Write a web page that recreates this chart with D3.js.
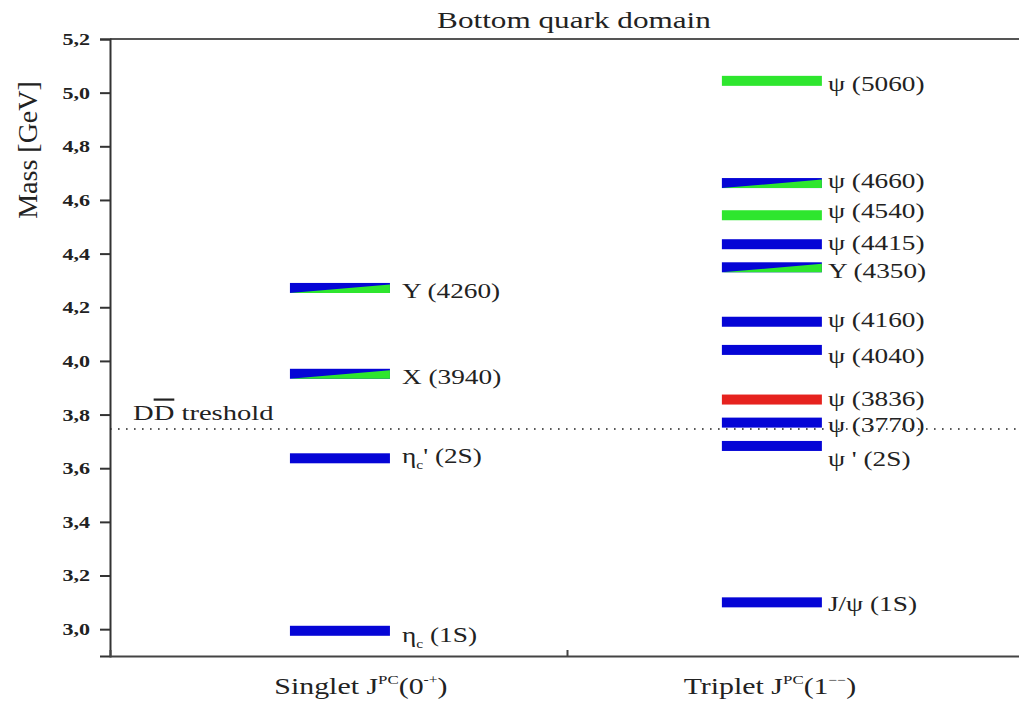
<!DOCTYPE html>
<html>
<head>
<meta charset="utf-8">
<script src="https://cdn.jsdelivr.net/npm/d3@7"></script>
<style>
  body { margin: 0; background: #fff; }
  text { font-family: "Liberation Serif", "DejaVu Serif", serif; fill: #222; }
</style>
</head>
<body>
<div class="canva"></div>
<script>
// ---- data ----
const categories = ["Singlet", "Triplet"];

const singletLabels = [["η", "c", " (1S)"], ["η", "c", "' (2S)"], ["X (3940)"], ["Y (4260)"]];
const singletMasses = [2.994, 3.637, 3.952, 4.272];
const singletKinds = ["blue", "blue", "mixed", "mixed"];

const tripletLabels = [["J/ψ (1S)"], ["ψ ' (2S)"], ["ψ (3770)"], ["ψ (3836)"], ["ψ (4040)"],
    ["ψ (4160)"], ["Y (4350)"], ["ψ (4415)"], ["ψ (4540)"], ["ψ (4660)"], ["ψ (5060)"]];
const tripletMasses = [3.100, 3.683, 3.770, 3.856, 4.041, 4.146, 4.349, 4.435, 4.543, 4.663, 5.044];
const tripletKinds = ["blue", "blue", "blue", "red", "blue", "blue", "mixed", "blue", "green", "mixed", "green"];

const threshold = 3.746;
const yTicks = [3.0, 3.2, 3.4, 3.6, 3.8, 4.0, 4.2, 4.4, 4.6, 4.8, 5.0, 5.2];

// ---- layout ----
const W = 1019, H = 706;
const plotLeft = 110, plotTop = 39, plotBottom = 656, plotRight = 1024;
const SX = 1.3; // the picture's text is stretched sideways
const colors = {blue: "#0505d6", green: "#2ee62e", red: "#e6221e"};
const barW = 100, barH = 10;

const svg = d3.select(".canva").append("svg")
    .attr("width", W)
    .attr("height", H);

const y = d3.scaleLinear().domain([2.9, 5.2]).range([plotBottom, plotTop]);
const xAxisScale = d3.scaleLinear().domain([0, 2]).range([plotLeft, plotRight]);
const x = d3.scalePoint().domain(categories).range([plotLeft, plotRight]).padding(0.558).align(0.477);

function stext(parent, px, py, size, anchor) {
    return parent.append("text")
        .attr("transform", `translate(${px},${py}) scale(${SX},1)`)
        .attr("text-anchor", anchor || "start")
        .style("font-size", size + "px");
}

// frame top line
svg.append("line")
    .attr("x1", plotLeft).attr("x2", W)
    .attr("y1", plotTop).attr("y2", plotTop)
    .attr("stroke", "#555").attr("stroke-width", 2);

// left axis
const yAxis = d3.axisLeft(y)
    .tickValues(yTicks)
    .tickSize(10)
    .tickPadding(10)
    .tickFormat(d => d3.format(".1f")(d).replace(".", ","));

const yG = svg.append("g")
    .attr("transform", `translate(${plotLeft},0)`)
    .call(yAxis);
yG.select(".domain").attr("stroke", "#333").attr("stroke-width", 2);
yG.selectAll(".tick line").attr("stroke", "#333").attr("stroke-width", 2);
yG.selectAll(".tick text")
    .attr("x", -20 / SX)
    .attr("transform", `scale(${SX},1)`)
    .style("font-family", "'Liberation Serif', serif")
    .style("font-weight", "bold")
    .style("font-size", "17px")
    .attr("fill", "#333");

// bottom axis
const xAxis = d3.axisBottom(xAxisScale)
    .tickValues([1])
    .tickSize(-6)
    .tickFormat("");
const xG = svg.append("g")
    .attr("transform", `translate(0,${plotBottom})`)
    .call(xAxis);
xG.select(".domain").attr("stroke", "#444").attr("stroke-width", 2);
xG.selectAll(".tick line").attr("stroke", "#444").attr("stroke-width", 2);

// threshold line
svg.append("line")
    .attr("x1", plotLeft).attr("x2", W)
    .attr("y1", y(threshold)).attr("y2", y(threshold))
    .attr("stroke", "#222")
    .attr("stroke-width", 1.6)
    .attr("stroke-dasharray", "1.6,6.4");

const th = stext(svg, 133, y(threshold) - 9, 22);
th.append("tspan").text("D");
th.append("tspan").style("text-decoration", "overline").text("D");
th.append("tspan").text(" treshold");

// levels
const levels = [];
singletMasses.forEach((m, i) => levels.push({cat: "Singlet", mass: m, kind: singletKinds[i], label: singletLabels[i]}));
tripletMasses.forEach((m, i) => levels.push({cat: "Triplet", mass: m, kind: tripletKinds[i], label: tripletLabels[i]}));

// label baseline offsets from bar centre, and gap after bar
const labelDy = [11, 5, 10, 10, 9, 20, 9, 6, 13, 5, 11, 6, 3, 5, 10];
const labelGap = {Singlet: 12, Triplet: 6};

const bars = svg.append("g");
levels.forEach((d, i) => {
    const x0 = x(d.cat) - barW / 2, x1 = x0 + barW;
    const yc = y(d.mass), y0 = yc - barH / 2, y1 = yc + barH / 2;
    if (d.kind === "mixed") {
        bars.append("rect")
            .attr("x", x0).attr("y", y0)
            .attr("width", barW).attr("height", barH)
            .attr("fill", colors.blue);
        bars.append("polygon")
            .attr("points", `${x0},${y1} ${x1},${y0 + 1.5} ${x1},${y1}`)
            .attr("fill", colors.green);
    } else {
        bars.append("rect")
            .attr("x", x0).attr("y", y0)
            .attr("width", barW).attr("height", barH)
            .attr("fill", colors[d.kind]);
    }

    const t = stext(svg, x1 + labelGap[d.cat], yc + labelDy[i], 21);
    t.append("tspan").text(d.label[0]);
    if (d.label.length > 1) {
        t.append("tspan").attr("dy", 6).style("font-size", "12px").text(d.label[1]);
        t.append("tspan").attr("dy", -6).text(d.label[2]);
    }
});

// title
stext(svg, 574, 28, 24, "middle").text("Bottom quark domain");

// y label
svg.append("text")
    .attr("transform", "translate(37,150) rotate(-90)")
    .attr("text-anchor", "middle")
    .style("font-size", "28px")
    .text("Mass [GeV]");

// category labels
const catLabel = {Singlet: ["Singlet J", "PC", "(0", "-+", ")"], Triplet: ["Triplet J", "PC", "(1", "−−", ")"]};
const catShift = {Singlet: 21, Triplet: -2};
categories.forEach(c => {
    const p = catLabel[c];
    const t = stext(svg, x(c) + catShift[c], 694, 23, "middle");
    t.append("tspan").text(p[0]);
    t.append("tspan").attr("dy", -10).style("font-size", "13px").text(p[1]);
    t.append("tspan").attr("dy", 10).text(p[2]);
    t.append("tspan").attr("dy", -10).style("font-size", "12px").text(p[3]);
    t.append("tspan").attr("dy", 10).text(p[4]);
});
</script>
</body>
</html>
